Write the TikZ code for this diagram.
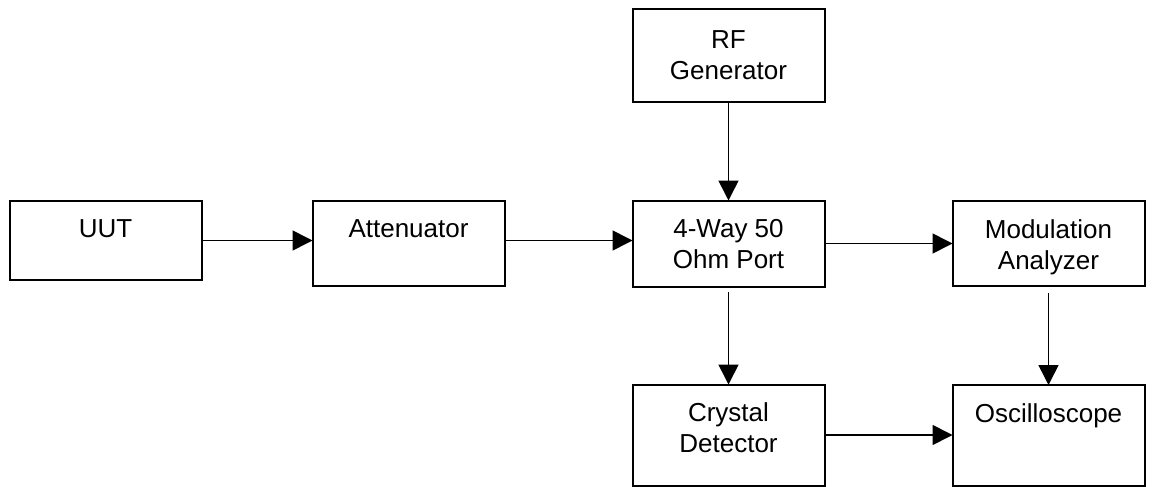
\documentclass[tikz,border=0pt]{standalone}
\usepackage{fontspec}
\setmainfont{Liberation Sans}
\usepackage{tikz}
\usetikzlibrary{
  arrows.meta, calc, positioning
}

\tikzset{
  unit/.style={draw, line width=1pt, minimum width=96pt, minimum height=42.5pt,
    inner sep=0pt, outer sep=0pt},
  caption/.style={anchor=north, align=center, inner sep=0pt, yshift=-9pt,
    font=\fontsize{13}{15.5}\selectfont},
  flow/.style={-{Triangle[length=10pt,width=10pt]}, line width=0.8pt}
}

\begin{document}
\begin{tikzpicture}
\useasboundingbox (0,0) rectangle (581pt,-243.5pt);

\node[unit, minimum height=39.5pt, label={[caption]north:UUT}] (uut) at (52.75pt,-120.25pt) {};
\node[unit, right=55.5pt of uut, yshift=-1.5pt, label={[caption]north:Attenuator}] (att) {};
\node[unit, right=64pt of att, minimum height=43pt, label={[caption]north:{4-Way 50\\Ohm Port}}] (port) {};
\node[unit, above=49.5pt of port, minimum height=46.5pt, label={[caption, yshift=-2pt]north:{RF\\Generator}}] (rf) {};
\node[unit, right=64pt of port, label={[caption]north:{Modulation\\Analyzer}}] (mod) {};
\node[unit, below=49pt of port, minimum height=50.5pt, label={[caption]north:{Crystal\\Detector}}] (det) {};
\node[unit, below=49.5pt of mod, minimum height=50.5pt, label={[caption]north:Oscilloscope}] (scope) {};

\path[flow] (uut.east) edge (uut.east -| att.west);
\path[flow] ([yshift=1.5pt]att.east) edge ([yshift=1.5pt]att.east -| port.west);
\path[flow] (rf) edge (port);
\path[flow] (port.east) edge (port.east -| mod.west);
\path[flow, shorten <=2.5pt] (port) edge (det);
\path[flow, shorten <=3.5pt] (mod) edge (scope);
\path[flow] (det.east) edge (det.east -| scope.west);
\end{tikzpicture}
\end{document}
